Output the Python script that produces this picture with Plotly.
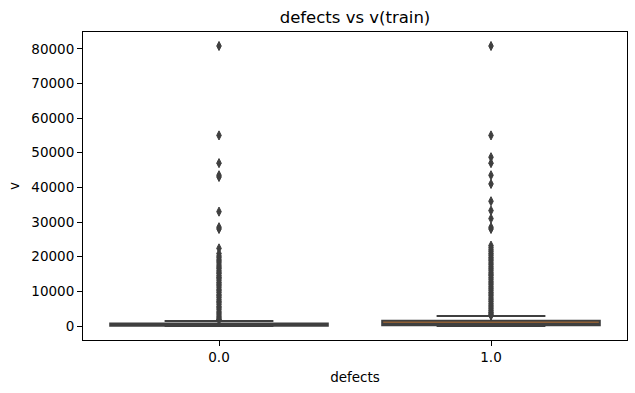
import plotly.graph_objects as go

# ---- data ----
categories = ["0.0", "1.0"]
q1_vals = [50, 200]
median_vals = [250, 700]
q3_vals = [700, 1500]
lower_fence = [0, 0]
upper_fence = [1450, 2900]
box_colors = ["#3274a1", "#e1812c"]

outliers_0 = [80800, 55000, 47000, 43500, 43000, 33000, 28500, 28000, 22400, 20900,
              20200, 19700, 19100, 18700, 18200, 17600, 17100, 16700, 16100, 15600,
              15200, 14600, 14100, 13700, 13200, 12600, 12100, 11700, 11200, 10600,
              10200, 9700, 9100, 8700, 8200, 7600, 7100, 6700, 6200, 5600, 5200,
              4700, 4100, 3700, 3200, 2700, 2300, 1900, 1750]
outliers_1 = [80800, 55000, 48700, 47000, 43500, 41000, 36000, 33300, 31000, 28500,
              28000, 23200, 22600, 22000, 21500, 20900, 20400, 19800, 19300, 18800,
              18200, 17700, 17100, 16600, 16100, 15500, 15000, 14600, 14000, 13500,
              12900, 12400, 11900, 11300, 10800, 10300, 9700, 9200, 8700, 8100,
              7600, 7100, 6500, 6000, 5500, 5000, 4500, 4000, 3600, 3200, 3000]
outliers = [outliers_0, outliers_1]

x_title = "defects"
y_title = "v"
chart_title = "defects vs v(train)"
y_ticks = [0, 10000, 20000, 30000, 40000, 50000, 60000, 70000, 80000]

fig = go.Figure()
for i, cat in enumerate(categories):
    fig.add_trace(go.Box(
        x=[cat], q1=[q1_vals[i]], median=[median_vals[i]], q3=[q3_vals[i]],
        lowerfence=[lower_fence[i]], upperfence=[upper_fence[i]],
        boxpoints=False, fillcolor=box_colors[i], width=0.8,
        line=dict(color="#3f3f3f", width=2), whiskerwidth=0.5,
        showlegend=False, hoverinfo="skip",
    ))
for i, cat in enumerate(categories):
    fig.add_trace(go.Scatter(
        x=[cat] * len(outliers[i]), y=outliers[i], mode="markers",
        marker=dict(symbol="diamond-tall", size=6.5, color="#3f3f3f",
                    line=dict(color="#3f3f3f", width=1)),
        showlegend=False, hoverinfo="skip",
    ))

fig.update_layout(
    width=635, height=393,
    margin=dict(l=83, r=8, t=32, b=53, autoexpand=False),
    paper_bgcolor="white", plot_bgcolor="white",
    font=dict(family="DejaVu Sans", size=13.5, color="black"),
    title=dict(text=chart_title, x=0.5, xref="paper", xanchor="center",
               y=1 - 17 / 393, yref="container", yanchor="middle",
               font=dict(size=16.5, color="black")),
)
fig.update_xaxes(
    type="category", categoryorder="array", categoryarray=categories,
    range=[-0.5, 1.5], automargin=False,
    showline=True, linecolor="black", linewidth=1, mirror=True,
    ticks="outside", ticklen=5, tickcolor="black", tickwidth=1,
    showgrid=False, zeroline=False,
    title=dict(text=x_title, standoff=8, font=dict(size=13.5)),
    tickfont=dict(size=13.5),
)
fig.update_yaxes(
    range=[-4040, 84840], tickvals=y_ticks, ticktext=[str(v) for v in y_ticks],
    automargin=False,
    showline=True, linecolor="black", linewidth=1, mirror=True,
    ticks="outside", ticklen=5, tickcolor="black", tickwidth=1,
    showgrid=False, zeroline=False,
    title=dict(text=y_title, standoff=8, font=dict(size=13.5)),
    tickfont=dict(size=13.5),
)

fig.write_html("out.html", config={"displayModeBar": False},
               post_script="document.body.style.margin='0px';")
